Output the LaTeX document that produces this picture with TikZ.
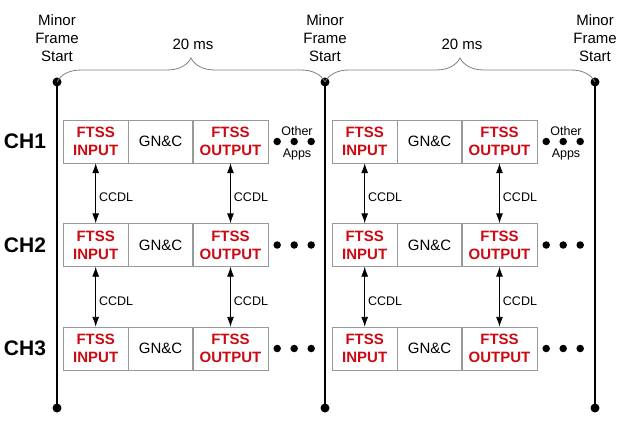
\documentclass[tikz,border=0pt]{standalone}
\usepackage{fontspec}
\setmainfont{Liberation Sans}
\usetikzlibrary{arrows.meta,calc,positioning,decorations.pathreplacing}
\definecolor{ftssred}{RGB}{204,10,20}
\tikzset{
    cell/.style = {draw=gray!80, fill=white, rectangle, minimum height=43pt, inner sep=0pt, align=center, font=\fontsize{15}{18}\selectfont},
    ftss/.style = {cell, text=ftssred, font=\fontsize{15}{18}\selectfont\bfseries},
    chlabel/.style = {font=\fontsize{21}{24}\selectfont\bfseries},
    ccdl/.style = {draw, <->, line width=0.9pt},
    ccdllabel/.style = {right, inner sep=3pt, font=\fontsize{12.5}{14}\selectfont},
    frameline/.style = {line width=2.4pt},
    framedot/.style = {circle, fill, inner sep=0pt, minimum size=9pt},
    appdot/.style = {circle, fill, inner sep=0pt, minimum size=7.5pt},
    period/.style = {draw=gray, line width=0.8pt, decorate, decoration={brace, amplitude=24pt}},
    note/.style = {align=center, font=\fontsize{15}{18}\selectfont},
    small/.style = {align=center, font=\fontsize{12.5}{14}\selectfont},
}

\begin{document}
\begin{tikzpicture}[x=1pt, y=-1pt, >={Latex[length=10pt,width=7pt]}]
    \useasboundingbox (0,0) rectangle (618,425);
    % minor frame boundaries
    \foreach \f/\x in {1/57, 2/325, 3/595} {
        \node[framedot] (top\f) at (\x,82) {};
        \node[framedot] (bot\f) at (\x,408) {};
        \draw[frameline] (top\f.center) -- (bot\f.center);
        \node[note] (start\f) at (\x,38) {Minor\\Frame\\Start};
    }
    \draw[period] (top1.center) -- (top2.center);
    \draw[period] (top2.center) -- (top3.center);
    \node[note] (len1) at (193,44) {20 ms};
    \node[note] (len2) at (462,44) {20 ms};

    % channels
    \foreach \ch/\y in {1/141.5, 2/245, 3/348.5} {
        \node[chlabel] (ch\ch) at (25,\y) {CH\ch};
        \foreach \f/\x in {a/63, b/332} {
            \node[ftss, minimum width=65pt, anchor=west] (in\f\ch) at (\x,\y) {FTSS\\INPUT};
            \node[cell, minimum width=64pt, right=0pt of in\f\ch] (gnc\f\ch) {GN\&C};
            \node[ftss, minimum width=75pt, right=0pt of gnc\f\ch] (out\f\ch) {FTSS\\OUTPUT};
            \foreach \d in {9,26,43}
                \node[appdot] (dot\f\ch\d) at ($(out\f\ch.east)+(\d,0)$) {};
        }
    }
    \node[small] (othera) at (297,131) {Other};
    \node[small] (appsa) at (297,154) {Apps};
    \node[small] (otherb) at (566,131) {Other};
    \node[small] (appsb) at (566,154) {Apps};

    % cross channel data links
    \foreach \f in {a,b}
        \foreach \u/\l in {1/2, 2/3} {
            \draw[ccdl] (in\f\u.south) -- (in\f\l.north) node[ccdllabel, pos=0.57] {CCDL};
            \draw[ccdl] (out\f\u.south) -- (out\f\l.north) node[ccdllabel, pos=0.57] {CCDL};
        }
\end{tikzpicture}
\end{document}
